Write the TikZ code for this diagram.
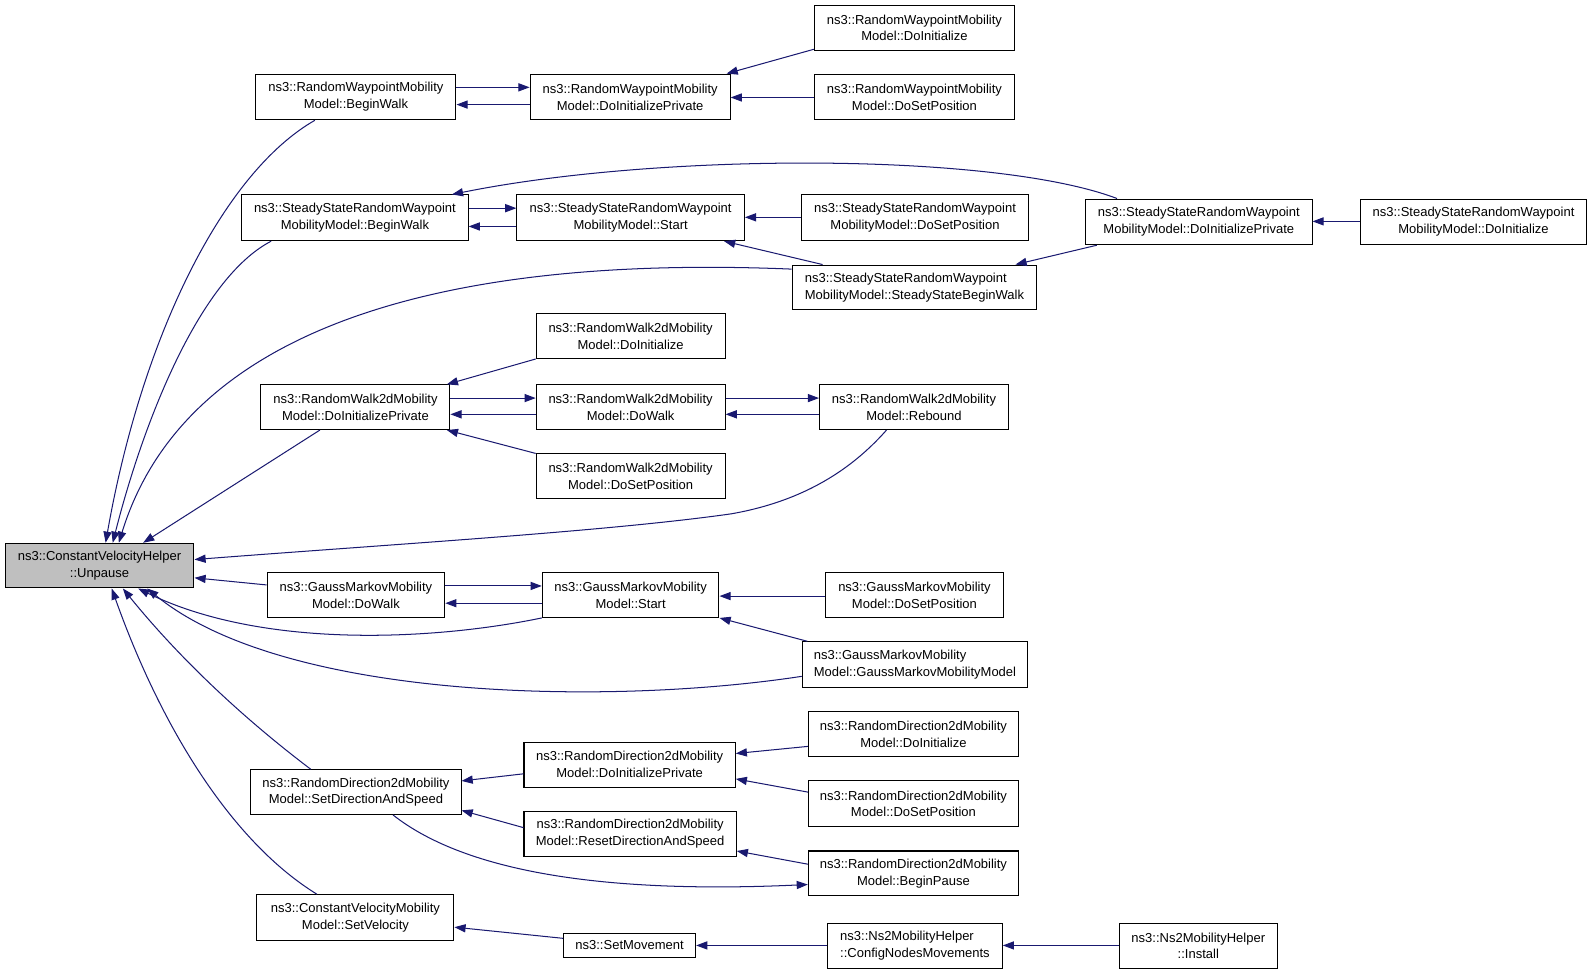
\documentclass[tikz,border=0pt]{standalone}
\usepackage{fontspec}
\setmainfont{Liberation Sans}
\usetikzlibrary{arrows.meta}
\definecolor{edgecol}{RGB}{25,25,112}
\definecolor{rootfill}{RGB}{191,191,191}
\tikzset{
 box/.style={draw=black, line width=1pt, fill=white, inner sep=0pt, align=center, font=\fontsize{12.8}{16.5}\selectfont},
 root/.style={fill=rootfill},
 lbox/.style={align=left},
 ed/.style={draw=edgecol, line width=1pt, {Triangle[length=11pt,width=8pt]}-},
 edr/.style={draw=edgecol, line width=1pt, -{Triangle[length=11pt,width=8pt]}},
}
\newcommand\bx[7][]{\node[box,#1,minimum width={(#5-#3)*1pt},minimum height={(#6-#4)*1pt}] (#2) at ({(#3+#5)/2},{(#4+#6)/2}) {#7};}
\begin{document}
\begin{tikzpicture}[x=1pt,y=-1pt]
\useasboundingbox[fill=white] (0,0) rectangle (1567.7,960.1);
% nodes
\bx[root]{U}{5}{535}{191}{579}{ns3::ConstantVelocityHelper\\::Unpause}
\bx{RWBW}{252}{73}{449}{118}{ns3::RandomWaypointMobility\\Model::BeginWalk}
\bx{RWDIP}{522}{73}{719}{118}{ns3::RandomWaypointMobility\\Model::DoInitializePrivate}
\bx{RWDI}{802}{5}{999}{50}{ns3::RandomWaypointMobility\\Model::DoInitialize}
\bx{RWDSP}{802}{73}{999}{118}{ns3::RandomWaypointMobility\\Model::DoSetPosition}
\bx{SSBW}{238}{192}{461}{237}{ns3::SteadyStateRandomWaypoint\\MobilityModel::BeginWalk}
\bx{SSS}{509}{192}{733}{237}{ns3::SteadyStateRandomWaypoint\\MobilityModel::Start}
\bx{SSDSP}{789}{192}{1013}{237}{ns3::SteadyStateRandomWaypoint\\MobilityModel::DoSetPosition}
\bx{SSDIP}{1069}{196}{1292}{241}{ns3::SteadyStateRandomWaypoint\\MobilityModel::DoInitializePrivate}
\bx{SSDI}{1340}{196}{1562}{241}{ns3::SteadyStateRandomWaypoint\\MobilityModel::DoInitialize}
\bx[lbox]{SSSBW}{780}{261}{1021}{305}{ns3::SteadyStateRandomWaypoint\\MobilityModel::SteadyStateBeginWalk}
\bx{RWTDI}{528}{309}{714}{353}{ns3::RandomWalk2dMobility\\Model::DoInitialize}
\bx{RWTDIP}{257}{379}{443}{423}{ns3::RandomWalk2dMobility\\Model::DoInitializePrivate}
\bx{RWTDW}{528}{379}{714}{423}{ns3::RandomWalk2dMobility\\Model::DoWalk}
\bx{RWTR}{807}{379}{993}{423}{ns3::RandomWalk2dMobility\\Model::Rebound}
\bx{RWTDSP}{528}{447}{714}{491}{ns3::RandomWalk2dMobility\\Model::DoSetPosition}
\bx{GMDW}{263}{564}{438}{608}{ns3::GaussMarkovMobility\\Model::DoWalk}
\bx{GMS}{534}{564}{708}{608}{ns3::GaussMarkovMobility\\Model::Start}
\bx{GMDSP}{813}{564}{988}{608}{ns3::GaussMarkovMobility\\Model::DoSetPosition}
\bx[lbox]{GMGM}{790}{632}{1012}{677}{ns3::GaussMarkovMobility\\Model::GaussMarkovMobilityModel}
\bx{RDDI}{796}{701}{1003}{745}{ns3::RandomDirection2dMobility\\Model::DoInitialize}
\bx{RDDIP}{516}{731}{724}{775}{ns3::RandomDirection2dMobility\\Model::DoInitializePrivate}
\bx{RDSDS}{247}{758}{454}{802}{ns3::RandomDirection2dMobility\\Model::SetDirectionAndSpeed}
\bx{RDDSP}{796}{769}{1003}{814}{ns3::RandomDirection2dMobility\\Model::DoSetPosition}
\bx{RDRDS}{516}{799}{725}{843}{ns3::RandomDirection2dMobility\\Model::ResetDirectionAndSpeed}
\bx{RDBP}{796}{838}{1003}{882}{ns3::RandomDirection2dMobility\\Model::BeginPause}
\bx{CVSV}{253}{881}{447}{926}{ns3::ConstantVelocityMobility\\Model::SetVelocity}
\bx{SM}{555}{919}{685}{943}{ns3::SetMovement}
\bx[lbox]{NCNM}{815}{909}{987}{954}{ns3::Ns2MobilityHelper\\::ConfigNodesMovements}
\bx{NI}{1102}{909}{1258}{954}{ns3::Ns2MobilityHelper\\::Install}
% edges into Unpause
\draw[ed] (U.north -| 104,0) .. controls (140,330) and (220,170) .. (RWBW.south -| 310,0);
\draw[ed] (U.north -| 111,0) .. controls (140,420) and (195,275) .. (SSBW.south -| 267,0);
\draw[ed] (U.north -| 117,0) .. controls (180,330) and (420,250) .. (SSSBW.west |- 0,265);
\draw[ed] (U.north -| 141,0) -- (RWTDIP.south -| 315,0);
\draw[ed] (U.east |- 0,551) .. controls (400,535) and (600,523) .. (720,506) .. controls (800,492) and (845,455) .. (RWTR.south -| 873,0);
\draw[ed] (U.east |- 0,569) -- (GMDW.west |- 0,576);
\draw[ed] (U.south -| 136,0) .. controls (260,640) and (430,630) .. (GMS.south west);
\draw[ed] (U.south -| 145,0) .. controls (280,690) and (600,695) .. (GMGM.west |- 0,666);
\draw[ed] (U.south -| 121,0) .. controls (170,640) and (230,700) .. (RDSDS.north -| 306,0);
\draw[ed] (U.south -| 110,0) .. controls (160,720) and (230,830) .. (CVSV.north -| 312,0);
% random waypoint
\draw[edr] (RWBW.east |- 0,86) -- (RWDIP.west |- 0,86);
\draw[ed] (RWBW.east |- 0,103) -- (RWDIP.west |- 0,103);
\draw[ed] ([xshift=-4]RWDIP.north east) -- ([yshift=2]RWDI.south west);
\draw[ed] (RWDIP.east |- 0,96) -- (RWDSP.west |- 0,96);
% steady state
\draw[edr] (SSBW.east |- 0,205) -- (SSS.west |- 0,205);
\draw[ed] (SSBW.east |- 0,223) -- (SSS.west |- 0,223);
\draw[ed] (SSBW.north -| 445,0) .. controls (650,150) and (980,150) .. (SSDIP.north -| 1100,0);
\draw[ed] (SSS.east |- 0,214) -- (SSDSP.west |- 0,214);
\draw[ed] (SSS.south -| 713,0) -- (SSSBW.north -| 810,0);
\draw[ed] (SSSBW.north -| 1000,0) -- (SSDIP.south -| 1080,0);
\draw[ed] (SSDIP.east |- 0,218) -- (SSDI.west |- 0,218);
% random walk 2d
\draw[ed] (RWTDIP.north -| 440,0) -- (RWTDI.south west);
\draw[edr] (RWTDIP.east |- 0,392) -- (RWTDW.west |- 0,392);
\draw[ed] (RWTDIP.east |- 0,408) -- (RWTDW.west |- 0,408);
\draw[ed] (RWTDIP.south -| 440,0) -- (RWTDSP.north west);
\draw[edr] (RWTDW.east |- 0,392) -- (RWTR.west |- 0,392);
\draw[ed] (RWTDW.east |- 0,408) -- (RWTR.west |- 0,408);
% gauss markov
\draw[edr] (GMDW.east |- 0,577) -- (GMS.west |- 0,577);
\draw[ed] (GMDW.east |- 0,594) -- (GMS.west |- 0,594);
\draw[ed] (GMS.east |- 0,587) -- (GMDSP.west |- 0,587);
\draw[ed] (GMS.south east) -- (GMGM.north -| 795,0);
% random direction
\draw[ed] (RDSDS.east |- 0,769) -- (RDDIP.west |- 0,762);
\draw[ed] (RDSDS.east |- 0,798) -- (RDRDS.west |- 0,815);
\draw[ed] (RDDIP.east |- 0,742) -- (RDDI.west |- 0,735);
\draw[ed] (RDDIP.east |- 0,767) -- (RDDSP.west |- 0,780);
\draw[ed] (RDRDS.east |- 0,838) -- (RDBP.west |- 0,851);
\draw[edr] (RDSDS.south -| 387,0) .. controls (460,860) and (600,880) .. (RDBP.west |- 0,871);
% constant velocity / ns2
\draw[ed] (CVSV.east |- 0,913) -- (SM.west |- 0,924);
\draw[ed] (SM.east |- 0,931) -- (NCNM.west |- 0,931);
\draw[ed] (NCNM.east |- 0,931) -- (NI.west |- 0,931);
\end{tikzpicture}
\end{document}
